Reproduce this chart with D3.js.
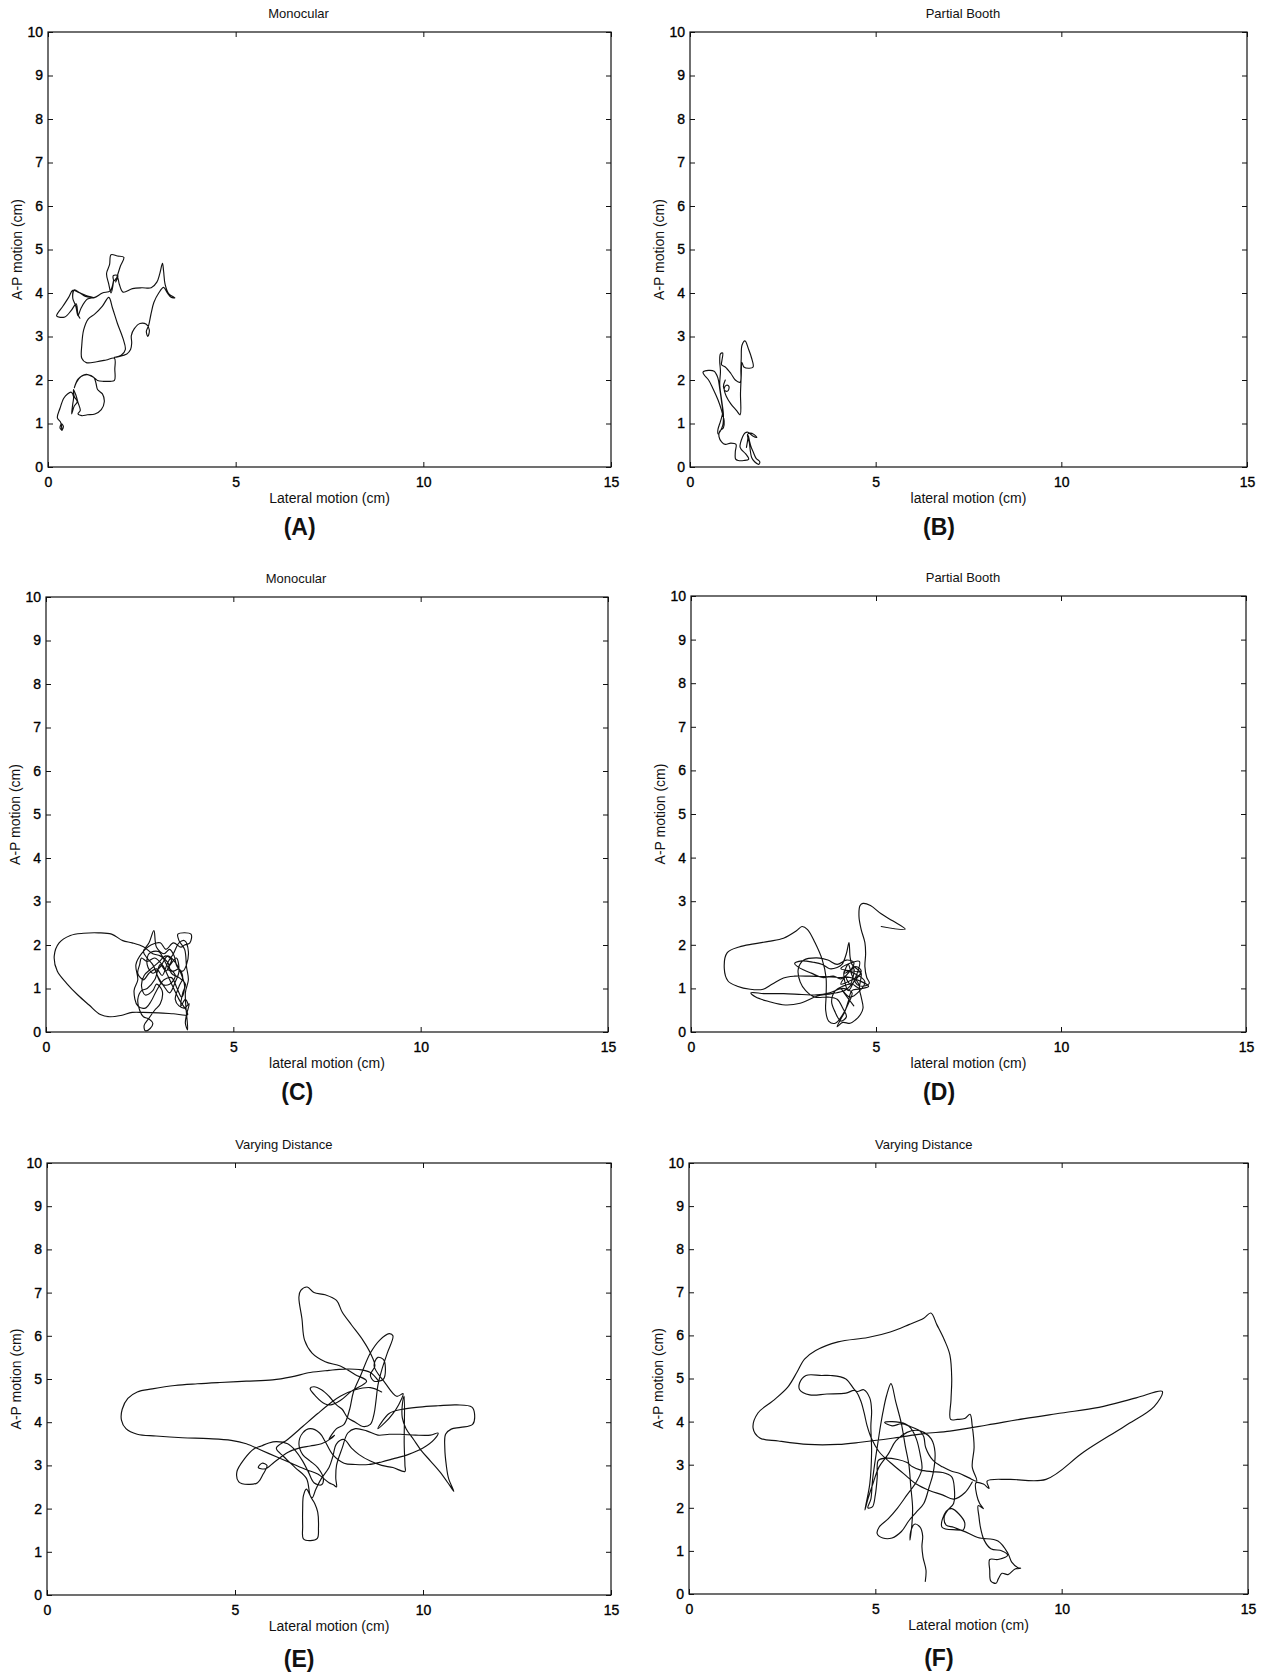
<!DOCTYPE html>
<html>
<head>
<meta charset="utf-8">
<script src="https://cdn.jsdelivr.net/npm/d3@7"></script>
<style>
  html, body { margin: 0; padding: 0; background: #fff; }
  svg { display: block; }
  text { font-family: "Liberation Sans", Arial, sans-serif; fill: #111; }
</style>
</head>
<body>
<svg id="fig" width="1271" height="1675"></svg>
<script>
// Axis ranges and ticks shared by all six sway plots
const xTicks = [0, 5, 10, 15];
const yTicks = [0, 1, 2, 3, 4, 5, 6, 7, 8, 9, 10];
const titles = ["Monocular", "Partial Booth", "Monocular", "Partial Booth", "Varying Distance", "Varying Distance"];
const xLabels = ["Lateral motion (cm)", "lateral motion (cm)", "lateral motion (cm)", "lateral motion (cm)", "Lateral motion (cm)", "Lateral motion (cm)"];
const yLabel = "A-P motion (cm)";
const panelTags = ["(A)", "(B)", "(C)", "(D)", "(E)", "(F)"];

// Centre-of-pressure traces, [lateral cm, A-P cm]
const traceA = [
  [0.37,0.84],[0.41,0.93],[0.36,0.99],[0.32,0.90],[0.36,0.86],[0.34,1.02],[0.25,1.13],[0.32,1.35],
  [0.42,1.58],[0.52,1.68],[0.62,1.72],[0.68,1.62],[0.66,1.45],[0.63,1.22],[0.70,1.40],[0.78,1.50],
  [0.70,1.62],[0.68,1.78],[0.74,1.66],[0.80,1.48],[0.86,1.30],[0.80,1.22],[0.90,1.18],[1.05,1.20],
  [1.25,1.22],[1.42,1.32],[1.50,1.50],[1.45,1.68],[1.32,1.78],[1.28,1.92],[1.22,2.06],[1.05,2.12],
  [0.88,2.08],[0.76,1.95],[0.70,1.82],[0.80,2.02],[1.02,2.13],[1.22,2.06],[1.32,1.99],[1.48,1.97],
  [1.66,1.97],[1.77,1.99],[1.78,2.25],[1.77,2.50],[1.55,2.46],[1.30,2.42],[1.02,2.40],[0.90,2.50],
  [0.90,2.80],[0.95,3.15],[1.07,3.40],[1.25,3.52],[1.45,3.70],[1.62,3.90],[1.72,3.65],[1.85,3.30],
  [2.00,2.95],[2.06,2.70],[1.95,2.57],[1.77,2.52],[2.10,2.60],[2.20,2.70],[2.23,2.85],[2.22,3.02],
  [2.30,3.18],[2.45,3.30],[2.62,3.28],[2.70,3.15],[2.66,3.00],[2.62,3.12],[2.68,3.25],[2.74,3.50],
  [2.82,3.78],[2.95,4.00],[3.08,4.13],[3.18,4.00],[3.28,3.90],[3.38,3.89],[3.22,3.98],[3.12,4.20],
  [3.08,4.50],[3.05,4.68],[2.98,4.45],[2.90,4.25],[2.75,4.12],[2.50,4.12],[2.25,4.10],[2.00,4.02],
  [1.90,4.20],[1.85,4.36],[1.76,4.28],[1.74,4.40],[1.86,4.40],[1.80,4.25],[1.93,4.62],[2.02,4.82],
  [1.85,4.85],[1.68,4.88],[1.64,4.65],[1.56,4.45],[1.62,4.20],[1.68,4.00],[1.75,4.30],[1.66,4.05],
  [1.45,4.00],[1.25,3.90],[1.05,3.86],[0.88,3.65],[0.80,3.48],[0.74,3.70],[0.66,3.88],[0.70,4.07],
  [0.85,4.00],[1.00,3.92],[1.23,3.89],[1.00,3.95],[0.80,4.02],[0.66,4.06],[0.55,3.90],[0.40,3.70],
  [0.23,3.47],[0.45,3.45],[0.62,3.60],[0.75,3.75],[0.80,3.50],[0.85,3.42]
];

const traceB = [
  [1.52,0.45],[1.55,0.60],[1.57,0.72],[1.60,0.60],[1.65,0.45],[1.70,0.35],[1.78,0.20],[1.88,0.12],
  [1.85,0.06],[1.74,0.12],[1.66,0.22],[1.62,0.40],[1.60,0.55],[1.55,0.75],[1.62,0.78],[1.72,0.75],
  [1.80,0.68],[1.68,0.72],[1.56,0.80],[1.48,0.78],[1.42,0.70],[1.35,0.45],[1.50,0.30],[1.58,0.18],
  [1.45,0.15],[1.30,0.15],[1.23,0.18],[1.22,0.35],[1.24,0.52],[1.10,0.55],[0.95,0.52],[0.85,0.58],
  [0.78,0.70],[0.80,0.82],[0.90,0.90],[0.92,1.05],[0.85,1.30],[0.75,1.55],[0.62,1.80],[0.50,2.00],
  [0.38,2.12],[0.35,2.18],[0.50,2.22],[0.65,2.20],[0.75,2.05],[0.80,1.80],[0.85,1.50],[0.88,1.25],
  [0.82,1.05],[0.75,0.85],[0.76,0.76],[0.88,0.95],[0.90,1.20],[0.85,1.55],[0.80,1.90],[0.82,2.20],
  [0.80,2.45],[0.82,2.60],[0.88,2.62],[0.86,2.45],[0.85,2.35],[0.95,2.30],[1.10,2.15],[1.22,2.00],
  [1.35,1.95],[1.37,2.25],[1.38,2.50],[1.40,2.80],[1.48,2.90],[1.58,2.70],[1.66,2.50],[1.70,2.30],
  [1.60,2.27],[1.45,2.30],[1.40,2.40],[1.38,2.10],[1.36,1.70],[1.35,1.20],[1.25,1.30],[1.10,1.45],
  [0.98,1.62],[0.92,1.80],[0.98,1.88],[1.05,1.85],[1.02,1.75],[0.95,1.75],[0.90,1.85],[0.95,2.00]
];

const traceC = [
  [3.80,0.62],[3.72,0.75],[3.60,0.60],[3.65,0.90],[3.72,1.10],[3.55,1.25],[3.35,1.35],[3.25,1.60],
  [3.05,1.75],[2.85,1.80],[2.60,1.96],[2.30,2.05],[2.05,2.10],[1.75,2.25],[1.40,2.28],[1.00,2.27],
  [0.65,2.22],[0.35,2.05],[0.22,1.75],[0.30,1.40],[0.55,1.12],[0.85,0.85],[1.15,0.62],[1.45,0.40],
  [1.70,0.35],[2.00,0.38],[2.30,0.45],[2.60,0.45],[3.00,0.44],[3.40,0.42],[3.78,0.40],[3.55,0.75],
  [3.38,1.05],[3.25,1.30],[3.10,1.55],[2.90,1.70],[2.70,1.62],[2.55,1.70],[2.50,1.55],[2.45,1.35],
  [2.60,1.20],[2.75,1.35],[2.95,1.45],[3.10,1.30],[3.25,1.60],[3.40,1.80],[3.55,2.05],[3.70,2.10],
  [3.80,1.85],[3.75,1.55],[3.65,1.40],[3.50,1.50],[3.42,1.75],[3.30,1.90],[3.15,1.80],[2.95,1.95],
  [2.88,2.33],[2.75,2.05],[2.60,1.85],[2.70,1.70],[2.85,1.55],[3.00,1.25],[3.15,1.05],[3.30,0.90],
  [3.45,1.15],[3.55,1.40],[3.48,1.70],[3.32,1.55],[3.20,1.40],[3.05,1.55],[2.90,1.20],[2.70,1.00],
  [2.55,0.95],[2.45,0.75],[2.50,0.50],[2.60,0.35],[2.75,0.30],[2.85,0.20],[2.78,0.08],[2.65,0.03],
  [2.62,0.15],[2.75,0.32],[2.90,0.50],[3.05,0.65],[3.10,0.95],[2.95,1.10],[2.85,0.95],[2.65,0.85],
  [2.55,1.05],[2.62,1.30],[2.80,1.45],[3.00,1.60],[3.20,1.75],[3.35,1.65],[3.25,1.45],[3.40,1.40],
  [3.55,1.45],[3.65,1.25],[3.55,1.05],[3.45,0.75],[3.55,0.60],[3.70,0.55],[3.82,0.65],[3.75,0.40],
  [3.72,0.20],[3.78,0.05],[3.72,0.90],[3.80,1.20],[3.75,1.50],[3.70,1.90],[3.55,2.10],[3.52,2.25],
  [3.87,2.25],[3.84,2.05],[3.70,2.00],[3.60,1.95],[3.40,2.05],[3.20,1.90],[3.05,2.05],[2.80,2.00],
  [2.55,1.80],[2.40,1.55],[2.45,1.20],[2.35,0.95],[2.45,0.60],[2.65,0.55],[2.80,0.70],[2.95,0.95],
  [3.15,1.20],[3.35,1.25],[3.50,1.00],[3.62,0.80],[3.70,1.05],[3.60,1.35],[3.45,1.60],[3.25,1.75],
  [3.05,1.50],[2.85,1.35],[2.70,1.55],[2.75,1.80],[3.00,1.85],[3.25,1.50],[3.45,1.30],[3.30,1.10],
  [3.10,1.10],[2.95,1.35]
];

const traceD = [
  [5.14,2.42],[5.79,2.36],[5.45,2.55],[5.14,2.71],[4.85,2.90],[4.65,2.95],[4.57,2.90],[4.54,2.65],
  [4.60,2.35],[4.70,2.05],[4.72,1.80],[4.70,1.50],[4.75,1.25],[4.82,1.12],[4.65,1.05],[4.50,1.08],
  [4.35,1.30],[4.25,1.55],[4.15,1.35],[4.40,1.45],[4.30,1.10],[4.20,1.25],[4.45,1.20],[4.55,1.00],
  [4.35,0.95],[4.25,0.70],[4.15,0.45],[4.05,0.30],[3.95,0.12],[4.10,0.22],[4.30,0.20],[4.45,0.28],
  [4.58,0.40],[4.65,0.55],[4.60,0.80],[4.55,1.00],[4.60,1.35],[4.52,1.42],[4.35,1.55],[4.30,1.72],
  [4.27,2.05],[4.20,1.80],[4.08,1.55],[3.95,1.48],[3.75,1.45],[3.55,1.55],[3.30,1.60],[3.00,1.63],
  [2.80,1.57],[2.88,1.50],[3.05,1.42],[3.25,1.35],[3.55,1.25],[3.85,1.28],[4.05,1.22],[4.25,1.35],
  [4.40,1.60],[4.20,1.65],[3.95,1.55],[3.70,1.65],[3.40,1.70],[3.05,1.65],[2.90,1.45],[2.95,1.15],
  [3.10,0.95],[3.35,0.80],[3.70,0.80],[3.95,0.75],[4.10,0.55],[4.20,0.35],[4.05,0.25],[3.90,0.45],
  [3.80,0.70],[3.90,0.95],[4.10,1.05],[4.35,1.10],[4.55,1.00],[4.80,1.05],[4.30,1.25],[4.00,1.25],
  [3.60,1.27],[3.20,1.28],[2.80,1.28],[2.50,1.24],[2.20,1.10],[1.95,0.98],[1.60,0.98],[1.25,1.05],
  [1.00,1.17],[0.90,1.45],[0.98,1.82],[1.30,1.95],[1.70,2.02],[2.10,2.08],[2.50,2.15],[2.85,2.32],
  [3.00,2.42],[3.15,2.35],[3.35,2.05],[3.55,1.65],[3.65,1.25],[3.65,0.80],[3.64,0.50],[3.72,0.25],
  [3.90,0.20],[4.10,0.40],[4.25,0.65],[4.35,0.90],[4.10,1.00],[3.75,0.90],[3.40,0.85],[3.00,0.86],
  [2.50,0.88],[2.00,0.88],[1.62,0.90],[1.75,0.80],[2.10,0.70],[2.55,0.62],[2.95,0.66],[3.40,0.82],
  [3.80,0.88],[4.15,0.95],[4.40,1.15],[4.60,1.40],[4.45,1.50],[4.05,1.10],[4.60,1.35],[4.05,1.45],
  [4.55,1.62],[4.25,0.95],[4.15,1.40],[4.70,1.15],[4.30,0.80],[4.05,1.00],[4.40,0.60]
];

const traceE = [
  [8.82,4.95],[8.60,5.15],[8.30,5.22],[7.90,5.23],[7.50,5.20],[7.00,5.15],[6.50,5.05],[6.00,4.98],
  [5.30,4.95],[4.60,4.92],[4.00,4.89],[3.40,4.85],[2.80,4.77],[2.40,4.70],[2.15,4.55],[2.00,4.30],
  [1.98,4.05],[2.10,3.85],[2.40,3.72],[2.90,3.68],[3.60,3.64],[4.30,3.62],[4.90,3.58],[5.30,3.50],
  [5.70,3.35],[6.10,3.20],[6.50,3.05],[6.90,2.90],[7.20,2.80],[7.50,2.60],[7.62,2.55],[7.70,2.50],
  [7.68,2.70],[7.70,3.00],[7.85,3.40],[8.00,3.75],[8.20,3.85],[8.50,3.80],[8.80,3.70],[9.10,3.72],
  [9.40,3.72],[9.80,3.70],[10.20,3.70],[10.40,3.75],[10.30,3.60],[10.00,3.40],[9.60,3.25],[9.20,3.15],
  [8.90,3.08],[8.55,3.02],[8.20,3.02],[7.90,3.05],[7.60,3.25],[7.40,3.55],[7.25,3.75],[7.00,3.85],
  [6.80,3.75],[6.70,3.50],[6.80,3.25],[7.00,3.10],[7.20,2.95],[7.35,2.70],[7.30,2.55],[7.10,2.60],
  [6.95,2.85],[6.80,3.10],[6.60,3.35],[6.40,3.50],[6.10,3.55],[5.90,3.52],[5.70,3.45],[5.50,3.38],
  [5.25,3.15],[5.05,2.85],[5.10,2.62],[5.35,2.56],[5.60,2.60],[5.75,2.80],[5.85,3.00],[5.72,3.05],
  [5.62,2.95],[5.80,2.92],[6.05,3.08],[6.40,3.30],[6.70,3.40],[7.00,3.45],[7.30,3.50],[7.55,3.62],
  [7.65,3.70],[7.50,3.60],[7.70,3.85],[7.90,3.95],[8.05,4.30],[8.15,4.70],[8.35,5.10],[8.60,5.60],
  [8.85,5.90],[9.10,6.05],[9.20,6.00],[9.05,5.60],[8.90,5.20],[8.80,4.85],[8.75,4.50],[8.70,4.20],
  [8.60,3.95],[8.40,3.90],[8.20,4.00],[8.00,4.10],[7.85,4.30],[7.70,4.40],[7.50,4.60],[7.30,4.75],
  [7.10,4.82],[7.00,4.78],[7.15,4.60],[7.40,4.42],[7.55,4.40],[7.80,4.50],[8.10,4.72],[8.50,4.95],
  [8.20,5.10],[7.80,5.30],[7.40,5.40],[7.05,5.60],[6.85,5.90],[6.78,6.40],[6.70,6.90],[6.75,7.05],
  [6.92,7.13],[7.10,7.00],[7.40,6.95],[7.70,6.82],[7.85,6.55],[8.10,6.25],[8.40,5.90],[8.60,5.60],
  [8.72,5.30],[8.60,5.10],[8.70,4.95],[8.95,5.00],[9.00,5.25],[8.95,5.45],[8.80,5.50],[8.70,5.30],
  [9.00,4.90],[9.30,4.60],[9.47,4.66],[9.35,4.40],[9.20,4.20],[9.00,4.00],[8.80,3.85],[9.10,4.20],
  [9.45,4.30],[9.90,4.35],[10.40,4.38],[10.90,4.40],[11.30,4.35],[11.37,4.20],[11.32,3.95],[11.00,3.88],
  [10.75,3.84],[10.60,3.72],[10.58,3.40],[10.62,3.00],[10.68,2.70],[10.82,2.40],[10.70,2.55],[10.45,2.85],
  [10.20,3.10],[9.95,3.35],[9.75,3.60],[9.55,3.85],[9.45,4.10],[9.45,4.40],[9.50,4.60],[9.50,3.50],
  [9.52,3.00],[9.52,2.86],[9.20,2.95],[8.90,3.00],[8.60,3.10],[8.30,3.25],[8.10,3.40],[7.90,3.60],
  [7.70,3.50],[7.60,3.20],[7.50,2.95],[7.30,2.70],[7.15,2.45],[7.05,2.25],[6.90,2.45],[6.82,2.30],
  [6.80,2.00],[6.80,1.60],[6.82,1.30],[7.00,1.26],[7.19,1.31],[7.22,1.55],[7.20,1.92],[7.12,2.12],
  [7.00,2.30],[6.90,2.70],[6.60,2.95],[6.30,3.20],[6.10,3.40],[6.40,3.60],[6.80,3.90],[7.20,4.20],
  [7.55,4.45],[7.80,4.60],[8.20,4.75],[8.60,4.80],[8.90,4.70]
];

const traceF = [
  [6.34,0.29],[6.36,0.55],[6.28,0.85],[6.25,1.10],[6.27,1.35],[6.20,1.55],[6.05,1.62],[5.95,1.45],
  [5.93,1.25],[5.98,1.60],[6.00,2.00],[5.95,2.50],[5.90,3.00],[5.80,3.45],[5.70,3.95],[5.55,4.45],
  [5.42,4.88],[5.30,4.60],[5.20,4.20],[5.12,3.80],[5.05,3.40],[4.98,3.00],[4.92,2.60],[4.88,2.20],
  [4.80,2.00],[4.92,2.02],[5.00,2.30],[5.05,2.70],[5.08,3.10],[5.25,3.15],[5.60,3.12],[5.85,3.05],
  [6.00,2.95],[6.20,2.88],[6.50,2.84],[6.80,2.82],[7.05,2.72],[7.12,2.45],[7.10,2.10],[6.95,1.95],
  [6.85,1.80],[6.90,1.60],[7.10,1.55],[7.35,1.48],[7.40,1.65],[7.25,1.85],[7.05,1.98],[6.90,1.92],
  [6.79,1.55],[7.33,1.47],[7.75,1.31],[8.29,1.23],[8.56,0.94],[8.66,0.74],[8.83,0.61],[8.90,0.60],
  [8.75,0.58],[8.56,0.45],[8.40,0.48],[8.30,0.35],[8.24,0.25],[8.10,0.30],[8.07,0.55],[8.07,0.80],
  [8.29,0.80],[8.55,0.90],[8.40,1.00],[8.10,1.05],[7.92,1.25],[7.82,1.55],[7.78,1.80],[7.76,2.05],
  [7.90,1.98],[7.80,2.10],[7.72,2.30],[7.70,2.58],[7.90,2.55],[8.05,2.45],[8.00,2.62],[8.60,2.66],
  [9.58,2.66],[10.60,3.30],[11.70,3.90],[12.48,4.35],[12.70,4.70],[12.00,4.55],[11.00,4.33],[10.00,4.20],
  [9.00,4.07],[8.00,3.92],[7.00,3.78],[6.30,3.72],[5.50,3.62],[4.60,3.52],[4.00,3.47],[3.20,3.47],
  [2.40,3.55],[1.90,3.62],[1.72,3.85],[1.85,4.20],[2.25,4.48],[2.65,4.80],[2.90,5.15],[3.10,5.45],
  [3.40,5.65],[4.00,5.85],[4.80,5.95],[5.40,6.08],[5.90,6.25],[6.30,6.40],[6.49,6.52],[6.65,6.25],
  [6.85,5.90],[7.00,5.55],[7.05,5.00],[7.03,4.50],[7.02,4.05],[7.20,4.05],[7.40,4.07],[7.54,4.17],
  [7.60,3.90],[7.65,3.40],[7.60,2.95],[7.72,2.62],[7.50,2.70],[7.25,2.80],[7.05,2.85],[6.80,2.95],
  [6.55,3.10],[6.35,3.40],[6.30,3.65],[6.20,3.78],[5.95,3.88],[5.70,3.95],[5.45,3.90],[5.25,3.98],
  [5.45,4.00],[5.80,3.95],[5.95,3.85],[6.10,3.60],[6.20,3.25],[6.25,2.90],[6.10,2.60],[5.85,2.30],
  [5.60,2.00],[5.35,1.75],[5.10,1.55],[5.05,1.40],[5.20,1.30],[5.45,1.30],[5.70,1.45],[5.90,1.70],
  [6.10,1.90],[6.30,2.10],[6.45,2.50],[6.55,2.80],[6.60,3.30],[6.50,3.60],[6.30,3.75],[6.10,3.80],
  [5.85,3.75],[5.55,3.55],[5.35,3.25],[5.10,2.95],[4.95,2.60],[4.80,2.20],[4.72,1.95],[4.85,2.55],
  [4.90,3.30],[4.88,3.90],[4.90,4.25],[4.85,4.55],[4.69,4.74],[4.50,4.70],[4.21,4.99],[3.80,5.07],
  [3.56,5.07],[3.14,5.07],[2.97,4.90],[2.97,4.74],[3.24,4.62],[3.70,4.64],[4.21,4.66],[4.45,4.72],
  [4.60,4.50],[4.70,4.20],[4.78,3.90],[4.90,3.60],[5.10,3.30],[5.40,3.05],[5.75,2.80],[6.10,2.55],
  [6.45,2.40],[6.80,2.30],[7.10,2.20],[7.40,2.35],[7.60,2.60]
];

const traces = [traceA, traceB, traceC, traceD, traceE, traceF];

// Frame geometry of each subplot (pixels)
const frames = [
  { left: 48,  right: 611,  top: 32,   bottom: 467,  titleAt: 0.445, tagDrop: 68 },
  { left: 690, right: 1247, top: 32,   bottom: 467,  titleAt: 0.49,  tagDrop: 68 },
  { left: 46,  right: 608,  top: 597,  bottom: 1032, titleAt: 0.445, tagDrop: 68 },
  { left: 691, right: 1246, top: 596,  bottom: 1032, titleAt: 0.49,  tagDrop: 68 },
  { left: 47,  right: 611,  top: 1163, bottom: 1595, titleAt: 0.42,  tagDrop: 72 },
  { left: 689, right: 1248, top: 1163, bottom: 1594, titleAt: 0.42,  tagDrop: 72 }
];

const svg = d3.select("#fig");

frames.forEach((f, i) => {
  const x = d3.scaleLinear().domain([0, 15]).range([f.left, f.right]);
  const y = d3.scaleLinear().domain([0, 10]).range([f.bottom, f.top]);
  const g = svg.append("g");
  const w = f.right - f.left, h = f.bottom - f.top;

  // inward ticks on all four sides
  const bottomAx = d3.axisBottom(x).tickValues(xTicks).tickSizeInner(-5).tickSizeOuter(0).tickPadding(10);
  const topAx = d3.axisTop(x).tickValues(xTicks).tickSizeInner(-5).tickSizeOuter(0).tickFormat("");
  const leftAx = d3.axisLeft(y).tickValues(yTicks).tickSizeInner(-5).tickSizeOuter(0).tickPadding(5);
  const rightAx = d3.axisRight(y).tickValues(yTicks).tickSizeInner(-5).tickSizeOuter(0).tickFormat("");

  const styleAxis = sel => {
    sel.attr("font-size", null).attr("font-family", null);
    sel.select(".domain").remove();
    sel.selectAll(".tick line").attr("stroke", "#111").attr("stroke-width", 1);
    sel.selectAll(".tick text")
      .style("font-size", "14px")
      .style("font-family", "'Liberation Sans', Arial, sans-serif")
      .style("fill", "#000")
      .style("stroke", "#000")
      .style("stroke-width", "0.35px");
  };
  g.append("g").attr("transform", `translate(0,${f.bottom})`).call(bottomAx).call(styleAxis);
  g.append("g").attr("transform", `translate(0,${f.top})`).call(topAx).call(styleAxis);
  g.append("g").attr("transform", `translate(${f.left},0)`).call(leftAx).call(styleAxis);
  g.append("g").attr("transform", `translate(${f.right},0)`).call(rightAx).call(styleAxis);

  // plot frame
  g.append("rect")
    .attr("x", f.left).attr("y", f.top).attr("width", w).attr("height", h)
    .attr("fill", "none").attr("stroke", "#111").attr("stroke-width", 1.2);

  // sway path
  const line = d3.line().x(d => x(d[0])).y(d => y(d[1])).curve(d3.curveCatmullRom.alpha(0.5));
  g.append("path").datum(traces[i]).attr("d", line)
    .attr("fill", "none").attr("stroke", "#111").attr("stroke-width", 1.15)
    .attr("stroke-linejoin", "round").attr("stroke-linecap", "round");

  // titles and labels
  g.append("text").attr("x", f.left + f.titleAt * w).attr("y", f.top - 14)
    .attr("text-anchor", "middle").style("font-size", "13px").text(titles[i]);
  g.append("text").attr("x", (f.left + f.right) / 2).attr("y", f.bottom + 36)
    .attr("text-anchor", "middle").style("font-size", "14px").text(xLabels[i]);
  g.append("text")
    .attr("transform", `translate(${f.left - 31},${(f.top + f.bottom) / 2}) rotate(-90)`)
    .attr("text-anchor", "middle").attr("dy", "0.35em").style("font-size", "14px").text(yLabel);
  g.append("text").attr("x", f.left + 0.447 * w).attr("y", f.bottom + f.tagDrop)
    .attr("text-anchor", "middle").style("font-size", "23px").style("font-weight", "bold").text(panelTags[i]);
});
</script>
</body>
</html>
